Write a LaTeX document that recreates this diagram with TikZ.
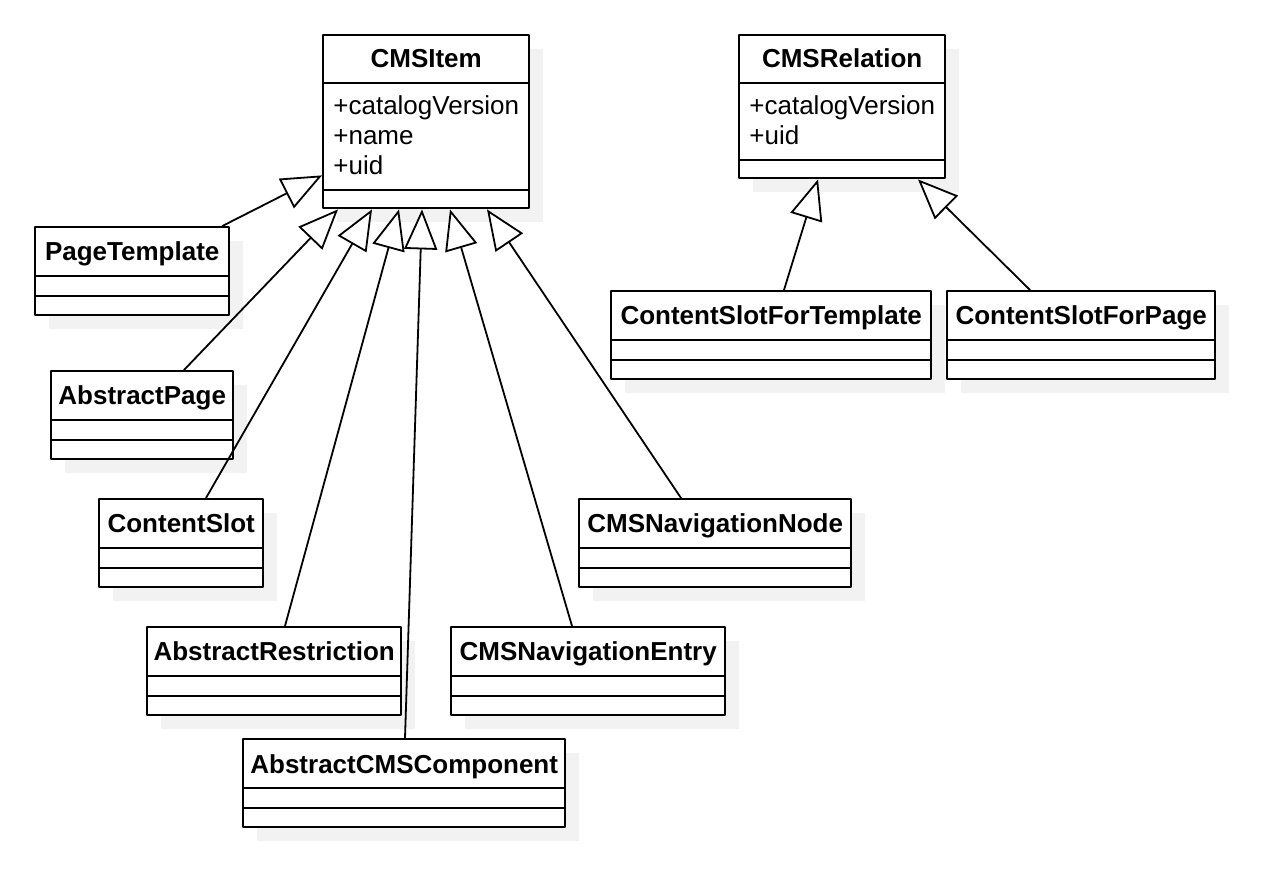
\documentclass[tikz,border=0pt]{standalone}
\usepackage{fontspec}
\setmainfont{Liberation Sans}
\usetikzlibrary{arrows.meta,shadows}
\tikzset{
  cls/.style={draw,line width=1.2pt,fill=white,anchor=north west,inner sep=0pt,minimum height=44pt,
    drop shadow={shadow xshift=7pt,shadow yshift=-7pt,fill=black!5,opacity=1}},
  ttl/.style={font=\bfseries\fontsize{13}{15}\selectfont,inner sep=0pt,anchor=base},
  attr/.style={font=\fontsize{13}{15}\selectfont,align=left,anchor=west,inner sep=0pt},
  sep/.style={line width=1.2pt,line cap=butt},
  gen/.style={line width=0.9pt,-{Triangle[length=20pt,width=16.5pt,fill=white,line width=0.9pt]}}
}
\begin{document}
\begin{tikzpicture}[x=0.5pt,y=-0.5pt,line cap=round,line join=round]
\useasboundingbox (0,0) rectangle (1280,892);
% base classes
\node[cls,minimum width=103pt,minimum height=86.5pt] (cmsitem) at (322,34) {};
\node[ttl] (cmsitemT) at ([yshift=-17pt]cmsitem.north) {CMSItem};
\node[attr] (cmsitemA) at ([shift={(5.5pt,-50.5pt)}]cmsitem.north west) {+catalogVersion\\+name\\+uid};
\draw[sep] ([yshift=-24.5pt]cmsitem.north west) -- ([yshift=-24.5pt]cmsitem.north east);
\draw[sep] ([yshift=-78pt]cmsitem.north west) -- ([yshift=-78pt]cmsitem.north east);
\node[cls,minimum width=103pt,minimum height=71.5pt] (cmsrel) at (738,34) {};
\node[ttl] (cmsrelT) at ([yshift=-17pt]cmsrel.north) {CMSRelation};
\node[attr] (cmsrelA) at ([shift={(5.5pt,-43pt)}]cmsrel.north west) {+catalogVersion\\+uid};
\draw[sep] ([yshift=-24.5pt]cmsrel.north west) -- ([yshift=-24.5pt]cmsrel.north east);
\draw[sep] ([yshift=-63pt]cmsrel.north west) -- ([yshift=-63pt]cmsrel.north east);
% subclasses
\node[cls,minimum width=97pt] (pagetpl) at (34,226) {};
\node[ttl] (pagetplT) at ([yshift=-17.5pt]pagetpl.north) {PageTemplate};
\draw[sep] ([yshift=-25pt]pagetpl.north west) -- ([yshift=-25pt]pagetpl.north east);
\draw[sep] ([yshift=-35pt]pagetpl.north west) -- ([yshift=-35pt]pagetpl.north east);
\node[cls,minimum width=91pt] (abspage) at (50,370) {};
\node[ttl] (abspageT) at ([yshift=-17.5pt]abspage.north) {AbstractPage};
\draw[sep] ([yshift=-25pt]abspage.north west) -- ([yshift=-25pt]abspage.north east);
\draw[sep] ([yshift=-35pt]abspage.north west) -- ([yshift=-35pt]abspage.north east);
\node[cls,minimum width=82pt] (slot) at (98,498) {};
\node[ttl] (slotT) at ([yshift=-17.5pt]slot.north) {ContentSlot};
\draw[sep] ([yshift=-25pt]slot.north west) -- ([yshift=-25pt]slot.north east);
\draw[sep] ([yshift=-35pt]slot.north west) -- ([yshift=-35pt]slot.north east);
\node[cls,minimum width=127pt] (absrestr) at (146,626) {};
\node[ttl] (absrestrT) at ([yshift=-17.5pt]absrestr.north) {AbstractRestriction};
\draw[sep] ([yshift=-25pt]absrestr.north west) -- ([yshift=-25pt]absrestr.north east);
\draw[sep] ([yshift=-35pt]absrestr.north west) -- ([yshift=-35pt]absrestr.north east);
\node[cls,minimum width=161pt] (abscomp) at (242,738) {};
\node[ttl] (abscompT) at ([yshift=-17.5pt]abscomp.north) {AbstractCMSComponent};
\draw[sep] ([yshift=-25pt]abscomp.north west) -- ([yshift=-25pt]abscomp.north east);
\draw[sep] ([yshift=-35pt]abscomp.north west) -- ([yshift=-35pt]abscomp.north east);
\node[cls,minimum width=137pt] (naventry) at (450,626) {};
\node[ttl] (naventryT) at ([yshift=-17.5pt]naventry.north) {CMSNavigationEntry};
\draw[sep] ([yshift=-25pt]naventry.north west) -- ([yshift=-25pt]naventry.north east);
\draw[sep] ([yshift=-35pt]naventry.north west) -- ([yshift=-35pt]naventry.north east);
\node[cls,minimum width=136pt] (navnode) at (578,498) {};
\node[ttl] (navnodeT) at ([yshift=-17.5pt]navnode.north) {CMSNavigationNode};
\draw[sep] ([yshift=-25pt]navnode.north west) -- ([yshift=-25pt]navnode.north east);
\draw[sep] ([yshift=-35pt]navnode.north west) -- ([yshift=-35pt]navnode.north east);
\node[cls,minimum width=160pt] (slottpl) at (610,290) {};
\node[ttl] (slottplT) at ([yshift=-17.5pt]slottpl.north) {ContentSlotForTemplate};
\draw[sep] ([yshift=-25pt]slottpl.north west) -- ([yshift=-25pt]slottpl.north east);
\draw[sep] ([yshift=-35pt]slottpl.north west) -- ([yshift=-35pt]slottpl.north east);
\node[cls,minimum width=134pt] (slotpage) at (946,290) {};
\node[ttl] (slotpageT) at ([yshift=-17.5pt]slotpage.north) {ContentSlotForPage};
\draw[sep] ([yshift=-25pt]slotpage.north west) -- ([yshift=-25pt]slotpage.north east);
\draw[sep] ([yshift=-35pt]slotpage.north west) -- ([yshift=-35pt]slotpage.north east);
% generalizations
\draw[gen] ([xshift=-4pt]pagetpl.north east) -- ([yshift=17pt]cmsitem.south west);
\draw[gen] ([xshift=67pt]abspage.north west) -- ([xshift=8pt]cmsitem.south west);
\draw[gen] ([xshift=54pt]slot.north west) -- ([xshift=25pt]cmsitem.south west);
\draw[gen] ([xshift=69.5pt]absrestr.north west) -- ([xshift=38.5pt]cmsitem.south west);
\draw[gen] ([xshift=81.5pt]abscomp.north west) -- ([xshift=50pt]cmsitem.south west);
\draw[gen] ([xshift=61pt]naventry.north west) -- ([xshift=64pt]cmsitem.south west);
\draw[gen] ([xshift=51.5pt]navnode.north west) -- ([xshift=82.5pt]cmsitem.south west);
\draw[gen] ([xshift=87pt]slottpl.north west) -- ([xshift=40pt]cmsrel.south west);
\draw[gen] ([xshift=42pt]slotpage.north west) -- ([xshift=90pt]cmsrel.south west);
\end{tikzpicture}
\end{document}
